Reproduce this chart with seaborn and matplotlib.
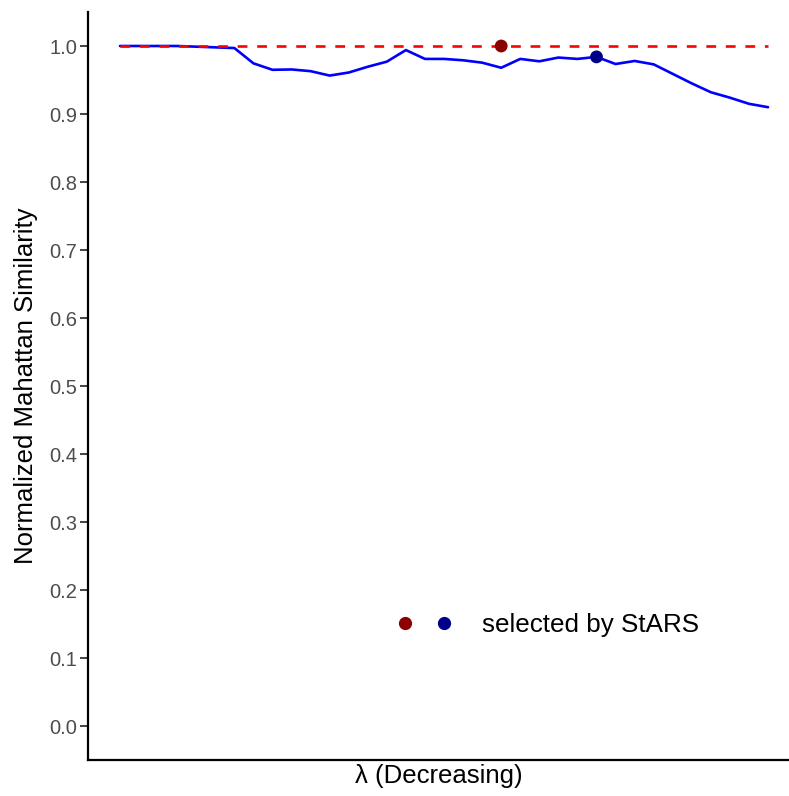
import matplotlib
matplotlib.use("Agg")
import matplotlib.pyplot as plt
import seaborn as sns
import numpy as np
import pandas as pd
from matplotlib.legend_handler import HandlerTuple
from matplotlib.lines import Line2D

similarity = [1.000, 1.000, 1.000, 1.000, 0.999, 0.998, 0.997, 0.9745, 0.965, 0.9655,
              0.963, 0.9565, 0.961, 0.9695, 0.977, 0.994, 0.981, 0.981, 0.979, 0.9755,
              0.968, 0.981, 0.9775, 0.983, 0.981, 0.984, 0.9735, 0.978, 0.973, 0.959,
              0.945, 0.932, 0.924, 0.915, 0.910]
reference = [1.0] * len(similarity)
lambda_index = list(range(len(similarity)))
selected_idx = [20, 25]
selected_val = [1.0, 0.984]
selected_color = ["#8B0000", "#00008B"]
yticks = [0.0, 0.1, 0.2, 0.3, 0.4, 0.5, 0.6, 0.7, 0.8, 0.9, 1.0]

df = pd.DataFrame({"lam": lambda_index, "sim": similarity, "ref": reference})
sel = pd.DataFrame({"lam": selected_idx, "val": selected_val, "c": selected_color})

sns.set_theme(style="white")
plt.rcParams['font.family'] = ['Liberation Sans', 'DejaVu Sans']
plt.rcParams['text.color'] = 'black'

fig = plt.figure(figsize=(7.89, 7.96), dpi=100)
ax = fig.add_axes([88/789, 1-760/796, 1-88/789, (760-12)/796])

sns.lineplot(data=df, x="lam", y="sim", ax=ax, color="#0000FF", lw=1.9, zorder=2)
sns.lineplot(data=df, x="lam", y="ref", ax=ax, color="#FF0000", lw=1.9, zorder=3,
             linestyle=(0, (3.7, 3.7)))
sns.scatterplot(data=sel, x="lam", y="val", hue="c", palette={c: c for c in selected_color},
                ax=ax, s=85, edgecolor="none", zorder=4, legend=False)

ax.set_xlim(-1.68, 35.1)
ax.set_ylim(-0.05, 1.05)
ax.set_xticks([])
ax.set_yticks(yticks)
ax.set_yticklabels([f"{v:.1f}" for v in yticks], color="#4D4D4D", fontsize=14.5)
ax.tick_params(axis="y", length=6, width=1.3, color="#333333", pad=2, left=True)
for s in ["top", "right"]:
    ax.spines[s].set_visible(False)
for s in ["left", "bottom"]:
    ax.spines[s].set_color("black")
    ax.spines[s].set_linewidth(1.6)

ax.set_xlabel("")
fig.text((88 + 789) / 2 / 789, 1 - 776 / 796, "λ (Decreasing)", ha="center", va="center",
         fontsize=18.5, color="black")
ax.set_ylabel("Normalized Mahattan Similarity", fontsize=18.5, color="black", labelpad=8)

h1 = Line2D([], [], marker="o", color=selected_color[0], linestyle="none", markersize=8.5)
h2 = Line2D([], [], marker="o", color=selected_color[1], linestyle="none", markersize=8.5)
leg = ax.legend([(h1, h2)], ["selected by StARS"],
                handler_map={tuple: HandlerTuple(ndivide=None, pad=0.7)},
                loc="center left", bbox_to_anchor=((395 - 88) / 701, (760 - 625) / 748),
                borderpad=0, borderaxespad=0, frameon=False, fontsize=18.7,
                handlelength=2.26, handletextpad=1.1)
for t in leg.get_texts():
    t.set_color("black")

fig.savefig("out.png", dpi=100)
